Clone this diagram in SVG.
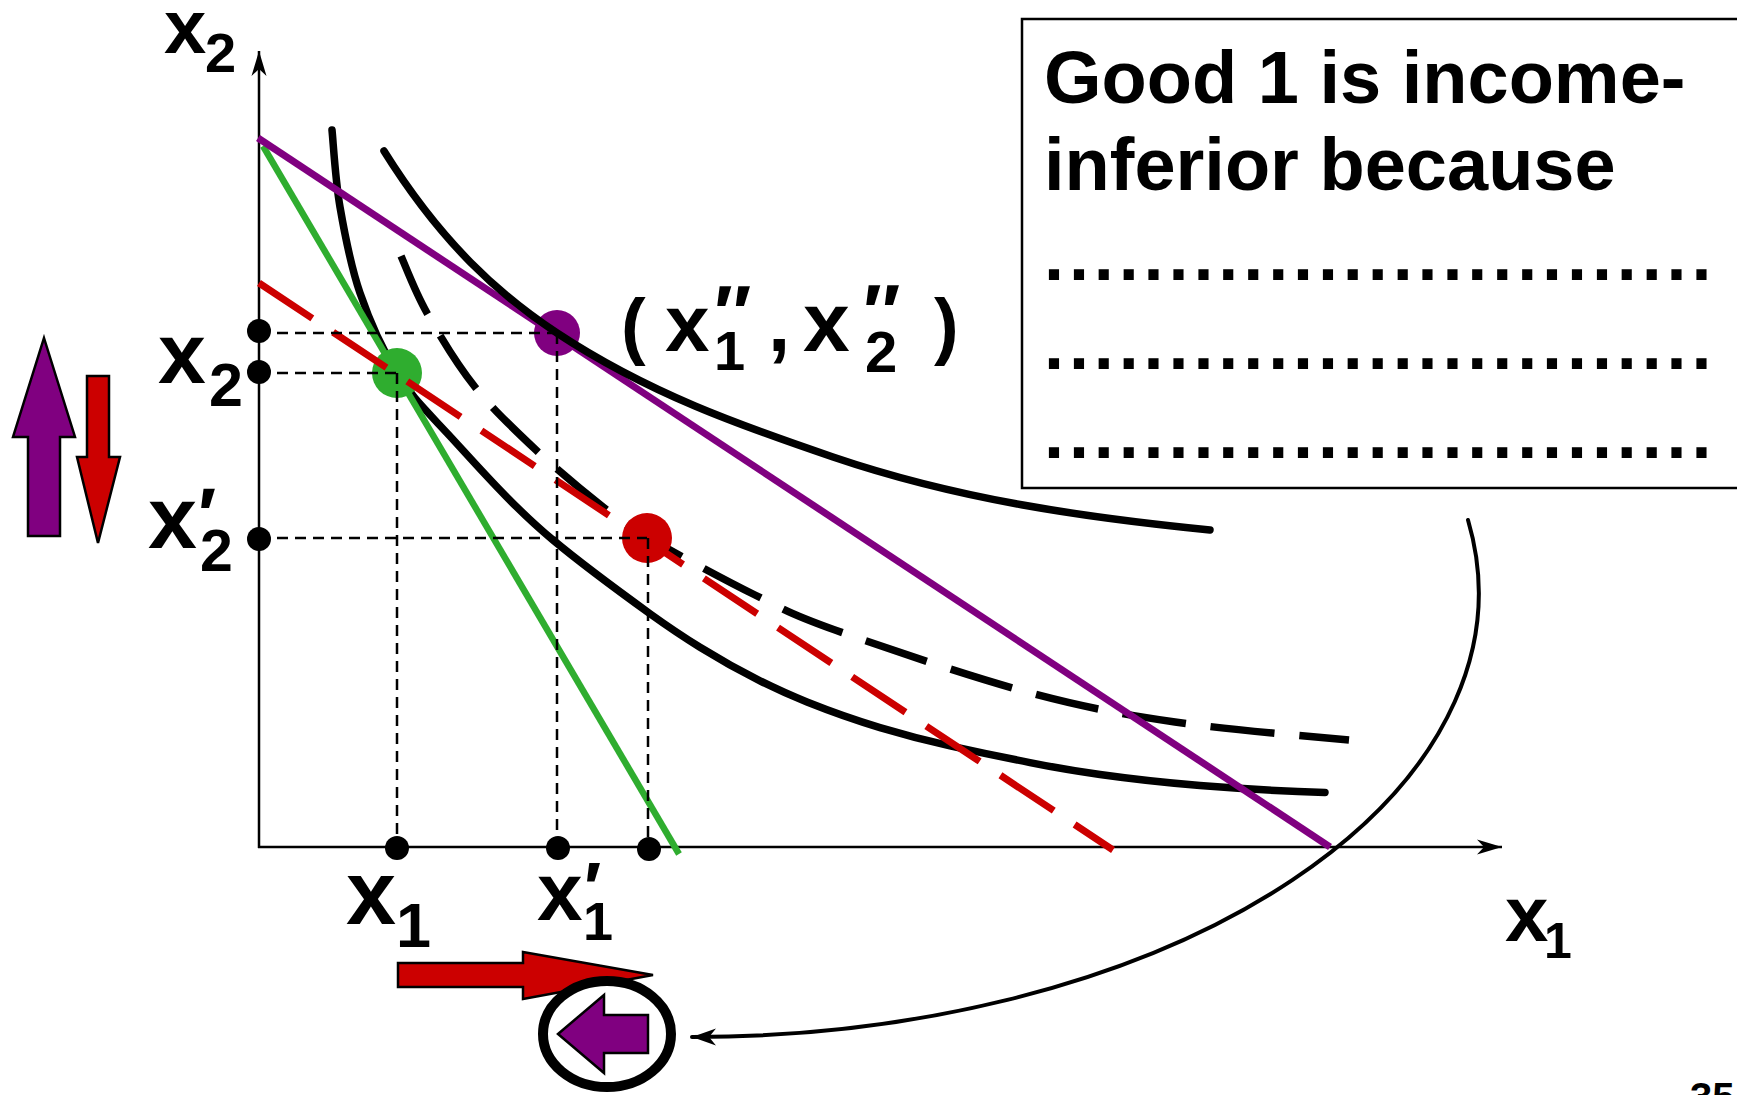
<svg xmlns="http://www.w3.org/2000/svg" width="1737" height="1095" viewBox="0 0 1737 1095">
<defs>
<marker id="ah" viewBox="-27 -10 28 20" refX="0" refY="0" markerWidth="28" markerHeight="20" markerUnits="userSpaceOnUse" orient="auto"><path d="M0,0 L-25,-7.5 L-18,0 L-25,7.5 Z" fill="#000"/></marker>
<marker id="ah2" viewBox="-27 -10 28 20" refX="0" refY="0" markerWidth="28" markerHeight="20" markerUnits="userSpaceOnUse" orient="auto"><path d="M0,0 L-24,-8.5 L-17,0 L-24,8.5 Z" fill="#000"/></marker>
</defs>
<style>
.t{font-family:"Liberation Sans",Arial,Helvetica,sans-serif;font-weight:bold;fill:#000}
.ic{fill:none;stroke:#000;stroke-width:7.5;stroke-linecap:round}
.icd{fill:none;stroke:#000;stroke-width:7.5;stroke-dasharray:64 25}
.guide{fill:none;stroke:#000;stroke-width:2.5;stroke-dasharray:11 7}
.axis{fill:none;stroke:#000;stroke-width:2.5}
.adot{fill:#000}
.blk{stroke:#000;stroke-width:2.5;stroke-linejoin:miter}
</style>
<rect width="1737" height="1095" fill="#fff"/>

<g id="axes">
<line class="axis" x1="259" y1="848" x2="259" y2="51" marker-end="url(#ah)"/>
<line class="axis" x1="258" y1="847" x2="1502" y2="847" marker-end="url(#ah)"/>
</g>

<g id="ic1"><path class="ic" d="M332,130 C333.3,142.8 335.3,179.8 340,207 C344.7,234.2 350.5,265.3 360,293 C369.5,320.7 382.5,349.7 397,373 C411.5,396.3 421,405.2 447,433 C473,460.8 510.8,505 553,540 C585.3,566.8 617.7,590.4 650,613.7 C666.7,625.7 683.3,636.9 700,647.2 C720,659.6 740,670.8 760,680.8 C775.7,688.6 791.3,695.7 807,702 C831.3,711.7 855.7,720.3 880,727.6 C903.3,734.6 926.7,740.7 950,745.8 C976.7,751.7 1003.3,757.3 1030,762.6 C1053.3,767.3 1076.7,771.2 1100,774.5 C1133.3,779.2 1166.7,782.8 1200,785.5 C1241.7,788.8 1283.3,791.2 1325,792.4"/></g>

<g id="ic3"><path class="icd" d="M401,256 C405.3,265.5 414.7,291.2 427,313 C439.3,334.8 456.8,364.2 475,387 C493.2,409.8 514.7,430 536,450 C557.3,470 584.5,492.5 603,507 C621.5,521.5 621.7,522.3 647,537 C672.3,551.7 723.7,579.5 755,595 C786.3,610.5 789.7,613.8 835,630 C880.3,646.2 970.3,676.7 1027,692 C1083.7,707.3 1121.3,714 1175,722 C1228.7,730 1320,737 1349,740"/></g>

<g id="budget-green"><line x1="263" y1="146" x2="679" y2="854" stroke="#2fad2f" stroke-width="6.5"/></g>
<g id="budget-purple"><line x1="258" y1="138" x2="1330" y2="847" stroke="#800080" stroke-width="7"/></g>

<g id="point-green"><circle cx="397" cy="373" r="25" fill="#2fad2f"/></g>
<g id="point-red"><circle cx="647" cy="538" r="25" fill="#cc0000"/></g>
<g id="point-purple"><circle cx="557" cy="333" r="23" fill="#800080"/></g>

<g id="ic2"><path class="ic" d="M384,151 C441.7,243.3 499.3,294.9 557,333 C649,393.7 741,425.7 833,457 C958.7,499.7 1084.3,517.4 1210,530"/></g>

<g id="budget-red"><line x1="259" y1="283" x2="1113" y2="850" stroke="#cc0000" stroke-width="7" stroke-dasharray="64 25"/></g>

<g id="guides"><path class="guide" d="M259,333 H557 M259,373 H397 M259,538 H647 M397,373 V847 M557,333 V847 M648,538 V847"/></g>

<g id="axis-dots">
<circle class="adot" cx="259" cy="331" r="12"/>
<circle class="adot" cx="259" cy="372" r="12"/>
<circle class="adot" cx="259" cy="539" r="12"/>
<circle class="adot" cx="397" cy="848" r="12"/>
<circle class="adot" cx="558" cy="848" r="12"/>
<circle class="adot" cx="649" cy="849" r="12"/>
</g>

<g id="label-x2-axis"><text class="t" x="164" y="53" font-size="76">x</text><text class="t" x="205" y="72" font-size="56">2</text></g>
<g id="label-x1-axis"><text class="t" x="1505" y="941" font-size="78">x</text><text class="t" x="1544" y="958" font-size="50">1</text></g>
<g id="label-x2"><text class="t" x="158" y="383" font-size="86">x</text><text class="t" x="209" y="406" font-size="61">2</text></g>
<g id="label-x2p"><text class="t" x="148" y="548" font-size="88">x</text><text class="t" x="198" y="541" font-size="76">′</text><text class="t" x="200" y="571" font-size="59">2</text></g>
<g id="label-x1"><text class="t" x="346" y="924" font-size="90">x</text><text class="t" x="396" y="947" font-size="63">1</text></g>
<g id="label-x1p"><text class="t" x="537" y="920" font-size="82">x</text><text class="t" x="584" y="913" font-size="72">′</text><text class="t" x="583" y="940" font-size="54">1</text></g>
<g id="label-xpp">
<text class="t" x="621" y="351" font-size="74">(</text>
<text class="t" x="665" y="351" font-size="80">x</text>
<text class="t" x="714" y="340" font-size="78">″</text>
<text class="t" x="714" y="370" font-size="56">1</text>
<text class="t" x="768" y="351" font-size="80">,</text>
<text class="t" x="803" y="351" font-size="84">x</text>
<text class="t" x="863" y="339" font-size="78">″</text>
<text class="t" x="865" y="372" font-size="58">2</text>
<text class="t" x="934" y="351" font-size="74">)</text>
</g>

<g id="arrow-up-purple"><polygon class="blk" points="44,338 75,437 60,437 60,536 28,536 28,437 13,437" fill="#800080"/></g>
<g id="arrow-down-red"><polygon class="blk" points="87,376 109,376 109,457 120,457 98,543 77,457 87,457" fill="#cc0000"/></g>
<g id="arrow-right-red"><polygon class="blk" points="398,963 523,963 523,952 653,975 523,999 523,987 398,987" fill="#cc0000"/></g>
<g id="circled-arrow">
<ellipse cx="607" cy="1034" rx="64" ry="53" fill="#fff" stroke="#000" stroke-width="10"/>
<polygon class="blk" points="558,1034 604,995 604,1015 648,1015 648,1053 604,1053 604,1073" fill="#800080"/>
</g>

<g id="textbox">
<rect x="1022" y="19" width="730" height="469" fill="#fff" stroke="#000" stroke-width="2.5"/>
<text class="t" x="1044" y="103" font-size="74">Good 1 is income-</text>
<text class="t" x="1044" y="190" font-size="74">inferior because</text>
<text class="t" x="1044" y="280" font-size="72" letter-spacing="4.9">...........................</text>
<text class="t" x="1044" y="369" font-size="72" letter-spacing="4.9">...........................</text>
<text class="t" x="1044" y="458" font-size="72" letter-spacing="4.9">...........................</text>
</g>

<g id="connectors">
<path d="M1468,520 A786,444 0 0 1 692,1037" fill="none" stroke="#000" stroke-width="4" stroke-linecap="round" marker-end="url(#ah2)"/>
</g>

<g id="page-number"><text class="t" x="1690" y="1111" font-size="40">35</text></g>
</svg>
